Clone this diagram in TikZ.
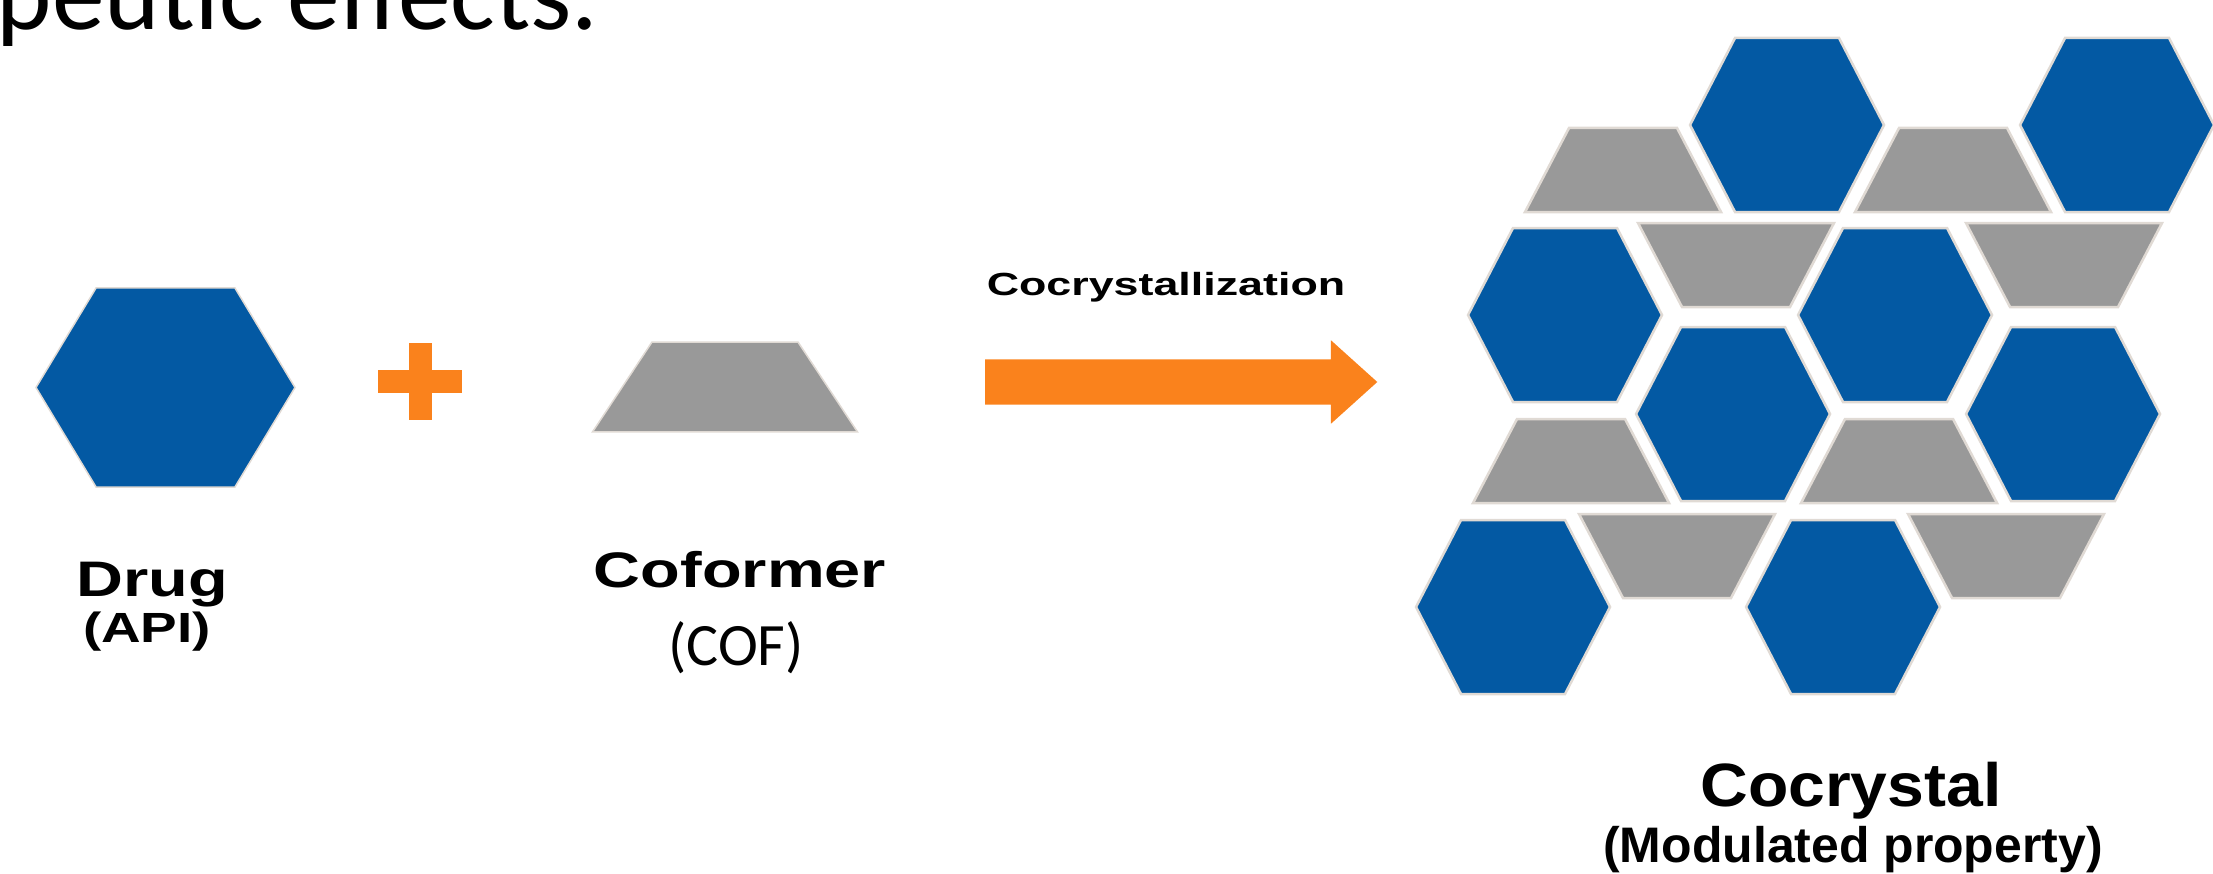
\documentclass[tikz,border=0pt]{standalone}
\usepackage{fontspec}
\setmainfont{Carlito}
\newfontfamily\labelfont[FakeStretch=1.30]{Liberation Sans}
\newfontfamily\stepfont[FakeStretch=1.40]{Liberation Sans}
\newfontfamily\crystfont[FakeStretch=1.08]{Liberation Sans}
\newfontfamily\propfont[FakeStretch=1.0]{Liberation Sans}
\usetikzlibrary{positioning, shapes.arrows}

\definecolor{apiblue}{RGB}{3,89,163}
\definecolor{cofgray}{RGB}{153,153,153}
\definecolor{plusorange}{RGB}{250,130,28}
\definecolor{rimgray}{RGB}{224,218,212}

\begin{document}
\begin{tikzpicture}[
  x=0.01cm, y=-0.01cm,
  every node/.style={inner sep=0pt, outer sep=0pt},
  blue cell/.style={fill=apiblue, draw=rimgray, line width=0.025cm},
  gray cell/.style={fill=cofgray, draw=rimgray, line width=0.025cm},
  hexcell/.pic={\path[pic actions] (-97,0) -- (-52,-87) -- (52,-87) -- (97,0) -- (52,87) -- (-52,87) -- cycle;},
  trapup/.pic={\path[pic actions] (-54,-42) -- (54,-42) -- (98,42) -- (-98,42) -- cycle;},
  trapdown/.pic={\path[pic actions] (-98,-42) -- (98,-42) -- (54,42) -- (-54,42) -- cycle;},
  biglabel/.style={anchor=base, font=\labelfont\bfseries\fontsize{14.2pt}{17pt}\selectfont},
  smalllabel/.style={anchor=base, font=\labelfont\bfseries\fontsize{12pt}{14pt}\selectfont},
  blockarrow/.style={single arrow, fill=plusorange, anchor=west, inner xsep=0pt, inner ysep=0.22cm,
    text height=0pt, text depth=0pt, minimum height=3.92cm, single arrow head extend=0.19cm,
    single arrow tip angle=84}
]
\useasboundingbox (0,0) rectangle (2213,873);
\clip (0,0) rectangle (2213,873);

% slide text cut at the top
\node[anchor=base west, font=\fontsize{30pt}{35pt}\selectfont] (slidetext) at (-3,30) {peutic effects.};

% drug + coformer
\pic[blue cell, line width=0.015cm, xscale=1.335, yscale=1.144] at (165.5,387.5) {hexcell};
\fill[plusorange] (378,370) rectangle (462,393);
\fill[plusorange] (409,343) rectangle (432,420);
\pic[gray cell, line width=0.015cm, xscale=1.352, yscale=1.07] at (725,387) {trapup};

\node[biglabel] (drug) at (152,596) {Drug};
\node[smalllabel] (api) at (147,642) {(API)};
\node[biglabel] (coformer) at (740,587) {Coformer};
\node[anchor=base, font=\fontsize{17.1pt}{20pt}\selectfont] (cof) at (736,665) {(COF)};

% process arrow
\node[blockarrow] (arrow) at (985,382) {};
\node[anchor=base, font=\stepfont\bfseries\fontsize{9.1pt}{11pt}\selectfont] (steplabel) at (1166,295) {Cocrystallization};

% cocrystal lattice
\pic[gray cell] at (1623,170) {trapup};
\pic[gray cell] at (1953,170) {trapup};
\pic[blue cell] at (1787,125) {hexcell};
\pic[blue cell] at (2117,125) {hexcell};
\pic[gray cell] at (1736,265) {trapdown};
\pic[gray cell] at (2064,265) {trapdown};
\pic[blue cell] at (1565,315) {hexcell};
\pic[blue cell] at (1895,315) {hexcell};
\pic[gray cell] at (1571,461) {trapup};
\pic[gray cell] at (1899,461) {trapup};
\pic[blue cell] at (1733,414) {hexcell};
\pic[blue cell] at (2063,414) {hexcell};
\pic[gray cell] at (1677,556) {trapdown};
\pic[gray cell] at (2006,556) {trapdown};
\pic[blue cell] at (1513,607) {hexcell};
\pic[blue cell] at (1843,607) {hexcell};

\node[anchor=base, font=\crystfont\bfseries\fontsize{17.4pt}{20pt}\selectfont] (cocrystal) at (1851,806) {Cocrystal};
\node[anchor=base, font=\propfont\bfseries\fontsize{14.2pt}{17pt}\selectfont] (modprop) at (1853,862) {(Modulated property)};

\end{tikzpicture}
\end{document}
